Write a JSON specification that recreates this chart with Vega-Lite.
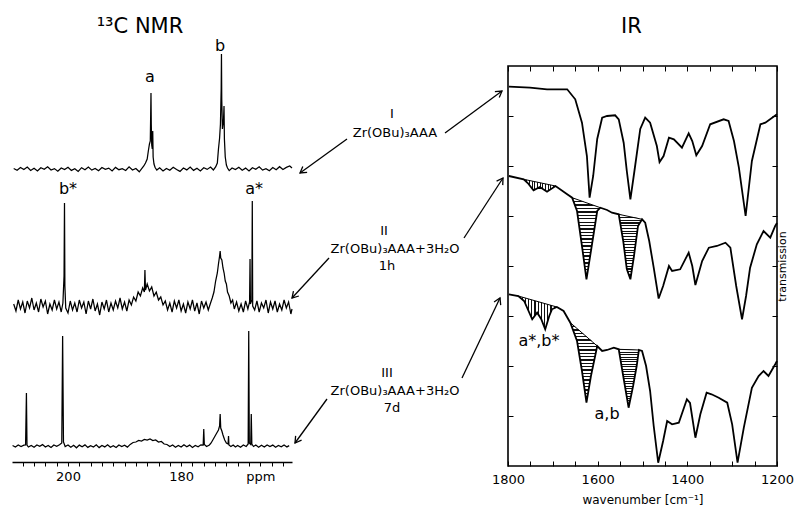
{
"$schema":"https://vega.github.io/schema/vega-lite/v6.json",
"padding":{"left":10,"top":14,"right":5,"bottom":5},
"background":"white",
"spacing":0,
"bounds":"flush",
"config":{"font":"DejaVu Sans","view":{"stroke":null},"axis":{"labelColor":"black","tickColor":"black","domainColor":"black","titleColor":"black","titleFontWeight":"normal","grid":false,"labelFont":"DejaVu Sans","titleFont":"DejaVu Sans"},"title":{"fontWeight":"normal","color":"black","font":"DejaVu Sans"}},
"datasets":{
"nmr":[
{"s":"I","p":209.6,"v":0.5},{"s":"I","p":209.0,"v":-1.2},{"s":"I","p":208.4,"v":1.5},{"s":"I","p":207.8,"v":-0.5},{"s":"I","p":207.2,"v":2},{"s":"I","p":206.6,"v":-1.5},{"s":"I","p":206.0,"v":0.8},{"s":"I","p":205.4,"v":-2},{"s":"I","p":204.8,"v":1.2},{"s":"I","p":204.2,"v":-0.3},{"s":"I","p":203.6,"v":2.2},{"s":"I","p":203.0,"v":-1},{"s":"I","p":202.4,"v":0.4},{"s":"I","p":201.8,"v":-2.2},{"s":"I","p":201.2,"v":1},{"s":"I","p":200.6,"v":-0.6},{"s":"I","p":200.0,"v":1.8},{"s":"I","p":199.4,"v":-1.4},{"s":"I","p":198.8,"v":0.2},{"s":"I","p":198.2,"v":-2.5},{"s":"I","p":197.6,"v":1.3},{"s":"I","p":197.0,"v":-0.8},{"s":"I","p":196.4,"v":2},{"s":"I","p":195.8,"v":-1.1},{"s":"I","p":195.2,"v":0.6},{"s":"I","p":194.6,"v":-1.8},{"s":"I","p":194.0,"v":1.5},{"s":"I","p":193.4,"v":-0.4},{"s":"I","p":192.8,"v":0.9},{"s":"I","p":192.2,"v":-2},{"s":"I","p":191.6,"v":1.6},{"s":"I","p":191.0,"v":-0.7},{"s":"I","p":190.4,"v":0.3},{"s":"I","p":189.8,"v":-1.5},{"s":"I","p":189.2,"v":2.1},{"s":"I","p":188.6,"v":-1},{"s":"I","p":188.0,"v":0.5},{"s":"I","p":187.4,"v":-2.8},{"s":"I","p":186.9,"v":0.8},{"s":"I","p":186.6,"v":3},{"s":"I","p":186.3,"v":6},{"s":"I","p":186.0,"v":10},{"s":"I","p":185.8,"v":18},{"s":"I","p":185.6,"v":25},{"s":"I","p":185.45,"v":28},{"s":"I","p":185.38,"v":55},{"s":"I","p":185.33,"v":76},{"s":"I","p":185.28,"v":45},{"s":"I","p":185.2,"v":24},{"s":"I","p":185.1,"v":20},{"s":"I","p":185.02,"v":38},{"s":"I","p":184.95,"v":12},{"s":"I","p":184.8,"v":5},{"s":"I","p":184.6,"v":1.5},{"s":"I","p":184.3,"v":-1},{"s":"I","p":183.8,"v":1.2},{"s":"I","p":183.2,"v":-2},{"s":"I","p":182.6,"v":0.6},{"s":"I","p":182.0,"v":-1.2},{"s":"I","p":181.4,"v":1.8},{"s":"I","p":180.8,"v":-0.5},{"s":"I","p":180.2,"v":-2.4},{"s":"I","p":179.6,"v":1},{"s":"I","p":179.0,"v":-0.9},{"s":"I","p":178.4,"v":2},{"s":"I","p":177.8,"v":-1.4},{"s":"I","p":177.2,"v":0.7},{"s":"I","p":176.6,"v":-1.9},{"s":"I","p":176.0,"v":1.2},{"s":"I","p":175.4,"v":-0.4},{"s":"I","p":174.8,"v":1.9},{"s":"I","p":174.3,"v":-1},{"s":"I","p":173.9,"v":2},{"s":"I","p":173.6,"v":6},{"s":"I","p":173.4,"v":20},{"s":"I","p":173.2,"v":31},{"s":"I","p":173.05,"v":45},{"s":"I","p":172.92,"v":80},{"s":"I","p":172.87,"v":115},{"s":"I","p":172.82,"v":70},{"s":"I","p":172.7,"v":40},{"s":"I","p":172.5,"v":50},{"s":"I","p":172.42,"v":63},{"s":"I","p":172.35,"v":30},{"s":"I","p":172.2,"v":12},{"s":"I","p":172.0,"v":4},{"s":"I","p":171.8,"v":1},{"s":"I","p":171.5,"v":-1.6},{"s":"I","p":171.0,"v":1},{"s":"I","p":170.4,"v":-0.6},{"s":"I","p":169.8,"v":1.8},{"s":"I","p":169.2,"v":-1.2},{"s":"I","p":168.6,"v":0.9},{"s":"I","p":168.0,"v":-2},{"s":"I","p":167.4,"v":1.3},{"s":"I","p":166.8,"v":-0.3},{"s":"I","p":166.2,"v":2.2},{"s":"I","p":165.6,"v":-1.1},{"s":"I","p":165.0,"v":0.4},{"s":"I","p":164.4,"v":-1.7},{"s":"I","p":163.8,"v":1.5},{"s":"I","p":163.2,"v":-0.8},{"s":"I","p":162.6,"v":2.3},{"s":"I","p":162.0,"v":-0.5},{"s":"I","p":161.4,"v":1.6},{"s":"I","p":160.8,"v":3},{"s":"I","p":160.4,"v":1},
{"s":"II","p":209.6,"v":2},{"s":"II","p":209.2,"v":-5},{"s":"II","p":208.8,"v":6},{"s":"II","p":208.4,"v":-3},{"s":"II","p":208.0,"v":4},{"s":"II","p":207.6,"v":-7},{"s":"II","p":207.2,"v":5},{"s":"II","p":206.8,"v":-2},{"s":"II","p":206.4,"v":8},{"s":"II","p":206.0,"v":-4},{"s":"II","p":205.6,"v":3},{"s":"II","p":205.2,"v":-6},{"s":"II","p":204.8,"v":7},{"s":"II","p":204.4,"v":-1},{"s":"II","p":204.0,"v":5},{"s":"II","p":203.6,"v":-8},{"s":"II","p":203.2,"v":2},{"s":"II","p":202.8,"v":-4},{"s":"II","p":202.4,"v":6},{"s":"II","p":202.0,"v":-3},{"s":"II","p":201.6,"v":4},{"s":"II","p":201.2,"v":-6},{"s":"II","p":200.9,"v":3},{"s":"II","p":200.7,"v":30},{"s":"II","p":200.62,"v":103},{"s":"II","p":200.55,"v":20},{"s":"II","p":200.4,"v":-2},{"s":"II","p":200.0,"v":-7},{"s":"II","p":199.6,"v":5},{"s":"II","p":199.2,"v":-4},{"s":"II","p":198.8,"v":3},{"s":"II","p":198.4,"v":-6},{"s":"II","p":198.0,"v":6},{"s":"II","p":197.6,"v":-2},{"s":"II","p":197.2,"v":4},{"s":"II","p":196.8,"v":-8},{"s":"II","p":196.4,"v":5},{"s":"II","p":196.0,"v":-3},{"s":"II","p":195.6,"v":7},{"s":"II","p":195.2,"v":-5},{"s":"II","p":194.8,"v":2},{"s":"II","p":194.4,"v":-9},{"s":"II","p":194.0,"v":4},{"s":"II","p":193.6,"v":-3},{"s":"II","p":193.2,"v":6},{"s":"II","p":192.8,"v":-6},{"s":"II","p":192.4,"v":3},{"s":"II","p":192.0,"v":-4},{"s":"II","p":191.6,"v":5},{"s":"II","p":191.2,"v":-2},{"s":"II","p":190.8,"v":8},{"s":"II","p":190.4,"v":-3},{"s":"II","p":190.0,"v":4},{"s":"II","p":189.6,"v":-5},{"s":"II","p":189.2,"v":6},{"s":"II","p":188.8,"v":1},{"s":"II","p":188.4,"v":9},{"s":"II","p":188.0,"v":5},{"s":"II","p":187.6,"v":14},{"s":"II","p":187.2,"v":10},{"s":"II","p":186.8,"v":18},{"s":"II","p":186.5,"v":14},{"s":"II","p":186.4,"v":36},{"s":"II","p":186.3,"v":16},{"s":"II","p":186.0,"v":22},{"s":"II","p":185.6,"v":15},{"s":"II","p":185.2,"v":19},{"s":"II","p":184.8,"v":10},{"s":"II","p":184.4,"v":14},{"s":"II","p":184.0,"v":6},{"s":"II","p":183.6,"v":9},{"s":"II","p":183.2,"v":1},{"s":"II","p":182.8,"v":5},{"s":"II","p":182.4,"v":-4},{"s":"II","p":182.0,"v":3},{"s":"II","p":181.6,"v":-6},{"s":"II","p":181.2,"v":5},{"s":"II","p":180.8,"v":-2},{"s":"II","p":180.4,"v":6},{"s":"II","p":180.0,"v":-5},{"s":"II","p":179.6,"v":2},{"s":"II","p":179.2,"v":-7},{"s":"II","p":178.8,"v":4},{"s":"II","p":178.4,"v":-3},{"s":"II","p":178.0,"v":6},{"s":"II","p":177.6,"v":-5},{"s":"II","p":177.2,"v":3},{"s":"II","p":176.8,"v":-8},{"s":"II","p":176.4,"v":5},{"s":"II","p":176.0,"v":-2},{"s":"II","p":175.6,"v":4},{"s":"II","p":175.2,"v":-4},{"s":"II","p":174.8,"v":3},{"s":"II","p":174.5,"v":8},{"s":"II","p":174.2,"v":14},{"s":"II","p":173.9,"v":25},{"s":"II","p":173.6,"v":33},{"s":"II","p":173.4,"v":42},{"s":"II","p":173.2,"v":50},{"s":"II","p":173.1,"v":55},{"s":"II","p":173.0,"v":48},{"s":"II","p":172.8,"v":46},{"s":"II","p":172.6,"v":38},{"s":"II","p":172.4,"v":33},{"s":"II","p":172.2,"v":25},{"s":"II","p":172.0,"v":22},{"s":"II","p":171.8,"v":14},{"s":"II","p":171.5,"v":10},{"s":"II","p":171.2,"v":3},{"s":"II","p":170.9,"v":6},{"s":"II","p":170.6,"v":-3},{"s":"II","p":170.2,"v":4},{"s":"II","p":169.8,"v":-5},{"s":"II","p":169.4,"v":2},{"s":"II","p":169.0,"v":-6},{"s":"II","p":168.6,"v":5},{"s":"II","p":168.2,"v":-3},{"s":"II","p":167.9,"v":4},{"s":"II","p":167.82,"v":47},{"s":"II","p":167.75,"v":2},{"s":"II","p":167.5,"v":6},{"s":"II","p":167.42,"v":105},{"s":"II","p":167.35,"v":0},{"s":"II","p":167.0,"v":-4},{"s":"II","p":166.6,"v":5},{"s":"II","p":166.2,"v":-6},{"s":"II","p":165.8,"v":3},{"s":"II","p":165.4,"v":-2},{"s":"II","p":165.0,"v":6},{"s":"II","p":164.6,"v":-7},{"s":"II","p":164.2,"v":4},{"s":"II","p":163.8,"v":-3},{"s":"II","p":163.4,"v":5},{"s":"II","p":163.0,"v":-6},{"s":"II","p":162.6,"v":2},{"s":"II","p":162.2,"v":-4},{"s":"II","p":161.8,"v":6},{"s":"II","p":161.4,"v":-2},{"s":"II","p":161.0,"v":4},{"s":"II","p":160.6,"v":-8},{"s":"II","p":160.4,"v":-3},
{"s":"III","p":209.8,"v":0.5},{"s":"III","p":209.3,"v":-1},{"s":"III","p":208.8,"v":1},{"s":"III","p":208.3,"v":-0.5},{"s":"III","p":207.8,"v":0.8},{"s":"III","p":207.5,"v":1},{"s":"III","p":207.35,"v":53},{"s":"III","p":207.25,"v":1},{"s":"III","p":207.0,"v":-1},{"s":"III","p":206.5,"v":0.6},{"s":"III","p":206.0,"v":-1.2},{"s":"III","p":205.5,"v":1},{"s":"III","p":205.0,"v":-0.4},{"s":"III","p":204.5,"v":1.4},{"s":"III","p":204.0,"v":-1},{"s":"III","p":203.5,"v":0.5},{"s":"III","p":203.0,"v":-1.5},{"s":"III","p":202.5,"v":1},{"s":"III","p":202.0,"v":-0.3},{"s":"III","p":201.5,"v":1.2},{"s":"III","p":201.1,"v":3},{"s":"III","p":200.95,"v":110},{"s":"III","p":200.8,"v":4},{"s":"III","p":200.5,"v":-0.5},{"s":"III","p":200.0,"v":1},{"s":"III","p":199.5,"v":-1.3},{"s":"III","p":199.0,"v":0.7},{"s":"III","p":198.5,"v":-1.8},{"s":"III","p":198.0,"v":0.9},{"s":"III","p":197.5,"v":-0.8},{"s":"III","p":197.0,"v":1.1},{"s":"III","p":196.5,"v":-1.4},{"s":"III","p":196.0,"v":0.4},{"s":"III","p":195.5,"v":-1},{"s":"III","p":195.0,"v":1.2},{"s":"III","p":194.5,"v":-1.6},{"s":"III","p":194.0,"v":0.6},{"s":"III","p":193.5,"v":-0.9},{"s":"III","p":193.0,"v":1.3},{"s":"III","p":192.5,"v":-1.2},{"s":"III","p":192.0,"v":0.2},{"s":"III","p":191.5,"v":-1.5},{"s":"III","p":191.0,"v":1},{"s":"III","p":190.5,"v":-0.6},{"s":"III","p":190.0,"v":0.8},{"s":"III","p":189.5,"v":-1.1},{"s":"III","p":189.0,"v":1.6},{"s":"III","p":188.5,"v":3.5},{"s":"III","p":188.0,"v":4},{"s":"III","p":187.5,"v":5.5},{"s":"III","p":187.0,"v":5},{"s":"III","p":186.5,"v":6.5},{"s":"III","p":186.0,"v":6},{"s":"III","p":185.5,"v":7},{"s":"III","p":185.0,"v":5.5},{"s":"III","p":184.5,"v":6},{"s":"III","p":184.0,"v":4},{"s":"III","p":183.5,"v":4.5},{"s":"III","p":183.0,"v":2},{"s":"III","p":182.5,"v":1.5},{"s":"III","p":182.0,"v":-0.5},{"s":"III","p":181.5,"v":1},{"s":"III","p":181.0,"v":-1.2},{"s":"III","p":180.5,"v":0.5},{"s":"III","p":180.0,"v":-1},{"s":"III","p":179.5,"v":1.3},{"s":"III","p":179.0,"v":-0.7},{"s":"III","p":178.5,"v":0.9},{"s":"III","p":178.0,"v":-1.4},{"s":"III","p":177.5,"v":0.6},{"s":"III","p":177.0,"v":-0.8},{"s":"III","p":176.5,"v":1.2},{"s":"III","p":176.1,"v":1},{"s":"III","p":176.0,"v":17},{"s":"III","p":175.9,"v":1.5},{"s":"III","p":175.5,"v":-0.5},{"s":"III","p":175.0,"v":1},{"s":"III","p":174.7,"v":3},{"s":"III","p":174.4,"v":6},{"s":"III","p":174.0,"v":10},{"s":"III","p":173.7,"v":13},{"s":"III","p":173.4,"v":16},{"s":"III","p":173.2,"v":20},{"s":"III","p":173.1,"v":32},{"s":"III","p":173.0,"v":18},{"s":"III","p":172.8,"v":15},{"s":"III","p":172.6,"v":11},{"s":"III","p":172.3,"v":6},{"s":"III","p":172.0,"v":3},{"s":"III","p":171.7,"v":2},{"s":"III","p":171.62,"v":10},{"s":"III","p":171.55,"v":1},{"s":"III","p":171.2,"v":-0.5},{"s":"III","p":170.8,"v":1},{"s":"III","p":170.4,"v":-1},{"s":"III","p":170.0,"v":0.5},{"s":"III","p":169.5,"v":-1.2},{"s":"III","p":169.0,"v":1},{"s":"III","p":168.5,"v":-0.5},{"s":"III","p":168.15,"v":2},{"s":"III","p":168.05,"v":115},{"s":"III","p":167.95,"v":3},{"s":"III","p":167.7,"v":1.5},{"s":"III","p":167.6,"v":32},{"s":"III","p":167.5,"v":2},{"s":"III","p":167.2,"v":-0.5},{"s":"III","p":166.8,"v":1},{"s":"III","p":166.3,"v":-1.2},{"s":"III","p":165.8,"v":0.8},{"s":"III","p":165.3,"v":-1},{"s":"III","p":164.8,"v":1.1},{"s":"III","p":164.3,"v":-0.6},{"s":"III","p":163.8,"v":0.9},{"s":"III","p":163.3,"v":-1.3},{"s":"III","p":162.8,"v":0.5},{"s":"III","p":162.3,"v":-0.8},{"s":"III","p":161.8,"v":1},{"s":"III","p":161.3,"v":-0.9},{"s":"III","p":160.9,"v":0.4}
],
"nmrlab":[
{"s":"I","p":185.5,"v":92,"t":"a"},{"s":"I","p":173.1,"v":123,"t":"b"},{"s":"II","p":200.0,"v":117,"t":"b*"},{"s":"II","p":167.1,"v":117,"t":"a*"}
],
"ir":[
{"c":"I","w":1798,"T":164.3},{"c":"I","w":1751,"T":163.3},{"c":"I","w":1713,"T":161.7},{"c":"I","w":1668,"T":161.7},{"c":"I","w":1650,"T":151.7},{"c":"I","w":1635,"T":128.3},{"c":"I","w":1624,"T":95},{"c":"I","w":1618,"T":53.3},{"c":"I","w":1610,"T":75},{"c":"I","w":1601,"T":112},{"c":"I","w":1590,"T":133.3},{"c":"I","w":1579,"T":135},{"c":"I","w":1561,"T":135.7},{"c":"I","w":1553,"T":131.7},{"c":"I","w":1542,"T":108.3},{"c":"I","w":1535,"T":80},{"c":"I","w":1527,"T":51.7},{"c":"I","w":1518,"T":80},{"c":"I","w":1505,"T":122},{"c":"I","w":1494,"T":133.3},{"c":"I","w":1483,"T":128.3},{"c":"I","w":1468,"T":105},{"c":"I","w":1462,"T":89},{"c":"I","w":1453,"T":95},{"c":"I","w":1441,"T":113.3},{"c":"I","w":1430,"T":111.7},{"c":"I","w":1412,"T":103.3},{"c":"I","w":1397,"T":117.7},{"c":"I","w":1389,"T":110},{"c":"I","w":1380,"T":95.7},{"c":"I","w":1367,"T":105},{"c":"I","w":1349,"T":126.7},{"c":"I","w":1319,"T":131.7},{"c":"I","w":1308,"T":130},{"c":"I","w":1296,"T":110},{"c":"I","w":1285,"T":83.3},{"c":"I","w":1270,"T":35},{"c":"I","w":1256,"T":90},{"c":"I","w":1237,"T":126.7},{"c":"I","w":1226,"T":128.3},{"c":"I","w":1200,"T":136.7},
{"c":"II","w":1798,"T":155},{"c":"II","w":1765,"T":151.7},{"c":"II","w":1756,"T":148},{"c":"II","w":1743,"T":140.7},{"c":"II","w":1729,"T":144},{"c":"II","w":1713,"T":139.3},{"c":"II","w":1694,"T":145},{"c":"II","w":1668,"T":136.7},{"c":"II","w":1657,"T":133.3},{"c":"II","w":1646,"T":120},{"c":"II","w":1635,"T":85},{"c":"II","w":1625,"T":51.7},{"c":"II","w":1615,"T":80},{"c":"II","w":1601,"T":120},{"c":"II","w":1594,"T":123.3},{"c":"II","w":1579,"T":121},{"c":"II","w":1568,"T":118.3},{"c":"II","w":1553,"T":116.7},{"c":"II","w":1543,"T":90},{"c":"II","w":1535,"T":62},{"c":"II","w":1527,"T":51.7},{"c":"II","w":1519,"T":75},{"c":"II","w":1510,"T":105},{"c":"II","w":1501,"T":111.7},{"c":"II","w":1494,"T":108.3},{"c":"II","w":1485,"T":90},{"c":"II","w":1475,"T":63.3},{"c":"II","w":1464,"T":32.5},{"c":"II","w":1454,"T":45},{"c":"II","w":1441,"T":65},{"c":"II","w":1434,"T":60},{"c":"II","w":1416,"T":61.7},{"c":"II","w":1397,"T":78.3},{"c":"II","w":1389,"T":65},{"c":"II","w":1382,"T":46},{"c":"II","w":1367,"T":70},{"c":"II","w":1352,"T":83.3},{"c":"II","w":1334,"T":85},{"c":"II","w":1315,"T":88.3},{"c":"II","w":1304,"T":83.3},{"c":"II","w":1291,"T":45},{"c":"II","w":1278,"T":11.7},{"c":"II","w":1269,"T":35},{"c":"II","w":1260,"T":63.3},{"c":"II","w":1245,"T":86.7},{"c":"II","w":1230,"T":100},{"c":"II","w":1215,"T":93.3},{"c":"II","w":1204,"T":105},{"c":"II","w":1200,"T":108},
{"c":"III","w":1798,"T":176.7},{"c":"III","w":1777,"T":175},{"c":"III","w":1764,"T":170},{"c":"III","w":1746,"T":151.7},{"c":"III","w":1735,"T":158.3},{"c":"III","w":1726,"T":152},{"c":"III","w":1717,"T":141.7},{"c":"III","w":1708,"T":155},{"c":"III","w":1702,"T":161.7},{"c":"III","w":1691,"T":164},{"c":"III","w":1676,"T":160},{"c":"III","w":1661,"T":148.3},{"c":"III","w":1646,"T":130},{"c":"III","w":1635,"T":100},{"c":"III","w":1625,"T":68.3},{"c":"III","w":1615,"T":95},{"c":"III","w":1601,"T":125},{"c":"III","w":1590,"T":120},{"c":"III","w":1579,"T":121},{"c":"III","w":1564,"T":123.3},{"c":"III","w":1553,"T":121.7},{"c":"III","w":1543,"T":95},{"c":"III","w":1531,"T":63.3},{"c":"III","w":1521,"T":85},{"c":"III","w":1513,"T":105},{"c":"III","w":1508,"T":121},{"c":"III","w":1501,"T":120},{"c":"III","w":1492,"T":105},{"c":"III","w":1483,"T":80},{"c":"III","w":1475,"T":45},{"c":"III","w":1465,"T":8.3},{"c":"III","w":1454,"T":30},{"c":"III","w":1445,"T":50},{"c":"III","w":1434,"T":46.7},{"c":"III","w":1419,"T":48.3},{"c":"III","w":1401,"T":71.7},{"c":"III","w":1394,"T":68},{"c":"III","w":1382,"T":33.3},{"c":"III","w":1371,"T":56.7},{"c":"III","w":1357,"T":78.3},{"c":"III","w":1346,"T":76.7},{"c":"III","w":1330,"T":73.3},{"c":"III","w":1311,"T":68.3},{"c":"III","w":1300,"T":46.7},{"c":"III","w":1288,"T":8.3},{"c":"III","w":1274,"T":43.3},{"c":"III","w":1256,"T":83.3},{"c":"III","w":1241,"T":95},{"c":"III","w":1230,"T":100},{"c":"III","w":1219,"T":95},{"c":"III","w":1204,"T":106.7},{"c":"III","w":1200,"T":110}
],
"hatch":[
{"c":"II","r":"A","w":1765,"T":151.7,"Tb":151.7},{"c":"II","r":"A","w":1756,"T":148,"Tb":150.9},{"c":"II","r":"A","w":1743,"T":140.7,"Tb":149.6},{"c":"II","r":"A","w":1729,"T":144,"Tb":148.3},{"c":"II","r":"A","w":1713,"T":139.3,"Tb":146.8},{"c":"II","r":"A","w":1694,"T":145,"Tb":145},
{"c":"II","r":"B","w":1657,"T":133.3,"Tb":133.3},{"c":"II","r":"B","w":1646,"T":120,"Tb":131.5},{"c":"II","r":"B","w":1635,"T":85,"Tb":129.8},{"c":"II","r":"B","w":1625,"T":51.7,"Tb":128.2},{"c":"II","r":"B","w":1615,"T":80,"Tb":126.6},{"c":"II","r":"B","w":1601,"T":120,"Tb":124.4},{"c":"II","r":"B","w":1594,"T":123.3,"Tb":123.3},
{"c":"II","r":"C","w":1553,"T":116.7,"Tb":116.7},{"c":"II","r":"C","w":1543,"T":90,"Tb":115.8},{"c":"II","r":"C","w":1535,"T":62,"Tb":115.1},{"c":"II","r":"C","w":1527,"T":51.7,"Tb":114.4},{"c":"II","r":"C","w":1519,"T":75,"Tb":113.7},{"c":"II","r":"C","w":1510,"T":105,"Tb":112.9},{"c":"II","r":"C","w":1501,"T":111.7,"Tb":111.7},
{"c":"III","r":"A","w":1777,"T":175,"Tb":175},{"c":"III","r":"A","w":1764,"T":170,"Tb":173.3},{"c":"III","r":"A","w":1746,"T":151.7,"Tb":171},{"c":"III","r":"A","w":1735,"T":158.3,"Tb":169.6},{"c":"III","r":"A","w":1726,"T":152,"Tb":168.5},{"c":"III","r":"A","w":1717,"T":141.7,"Tb":167.3},{"c":"III","r":"A","w":1708,"T":155,"Tb":166.2},{"c":"III","r":"A","w":1702,"T":161.7,"Tb":165.4},{"c":"III","r":"A","w":1691,"T":164,"Tb":164},
{"c":"III","r":"B","w":1661,"T":148.3,"Tb":148.3},{"c":"III","r":"B","w":1646,"T":130,"Tb":142.7},{"c":"III","r":"B","w":1635,"T":100,"Tb":138.6},{"c":"III","r":"B","w":1625,"T":68.3,"Tb":134.8},{"c":"III","r":"B","w":1615,"T":95,"Tb":131.1},{"c":"III","r":"B","w":1601,"T":125,"Tb":125},
{"c":"III","r":"C","w":1553,"T":121.7,"Tb":121.7},{"c":"III","r":"C","w":1543,"T":95,"Tb":121.6},{"c":"III","r":"C","w":1531,"T":63.3,"Tb":121.4},{"c":"III","r":"C","w":1521,"T":85,"Tb":121.2},{"c":"III","r":"C","w":1513,"T":105,"Tb":121.1},{"c":"III","r":"C","w":1508,"T":121,"Tb":121}
],
"hline":[
{"c":"II","w":1765,"T":151.7,"w2":1694,"T2":145},{"c":"II","w":1657,"T":133.3,"w2":1594,"T2":123.3},{"c":"II","w":1553,"T":116.7,"w2":1501,"T2":111.7},
{"c":"III","w":1777,"T":175,"w2":1691,"T2":164},{"c":"III","w":1661,"T":148.3,"w2":1601,"T2":125},{"c":"III","w":1553,"T":121.7,"w2":1508,"T2":121}
],
"irlab":[{"w":1731,"T":130,"t":"a*,b*"},{"w":1579,"T":57,"t":"a,b"}],
"arrows":[
{"x1":55,"y1":73,"x2":8,"y2":107},{"x1":153,"y1":67,"x2":210,"y2":25},{"x1":37,"y1":192,"x2":0,"y2":232},{"x1":172,"y1":172,"x2":211,"y2":112},{"x1":35,"y1":333,"x2":3,"y2":377},{"x1":170,"y1":312,"x2":208,"y2":232}
],
"midtext":[
{"x":100,"y":48,"t":"I"},{"x":103,"y":67,"t":"Zr(OBu)₃AAA"},{"x":92,"y":165,"t":"II"},{"x":103,"y":183,"t":"Zr(OBu)₃AAA+3H₂O"},{"x":95,"y":200,"t":"1h"},{"x":95,"y":307,"t":"III"},{"x":103,"y":325,"t":"Zr(OBu)₃AAA+3H₂O"},{"x":100,"y":342,"t":"7d"}
]
},
"hconcat":[
{
"width":280,"height":396,
"title":{"text":"¹³C NMR","fontSize":21,"offset":1,"dx":-12},
"encoding":{"x":{"field":"p","type":"quantitative","scale":{"domain":[160.4,209.9],"reverse":true,"nice":false,"zero":false},"axis":{"values":[162,164,166,168,170,172,174,176,178,180,182,184,186,188,190,192,194,196,198,200,202,204,206,208],"labelExpr":"datum.value==200||datum.value==180?datum.label:(datum.value==166?'ppm':'')","tickSize":4,"labelFontSize":13,"labelPadding":4,"domainWidth":1.6,"tickWidth":1,"labelOverlap":false,"labelFlush":false,"labelBound":false,"title":null}}},
"layer":[
{"encoding":{"y":{"field":"v","type":"quantitative","scale":{"domain":[-293,103],"nice":false,"zero":false},"axis":null}},
 "layer":[
  {"data":{"name":"nmr"},"transform":[{"filter":"datum.s==='I'"}],"mark":{"type":"line","stroke":"black","strokeWidth":1.25},"encoding":{}},
  {"data":{"name":"nmrlab"},"transform":[{"filter":"datum.s==='I'"}],"mark":{"type":"text","fontSize":16,"baseline":"middle","color":"black"},"encoding":{"text":{"field":"t"}}}
 ]},
{"encoding":{"y":{"field":"v","type":"quantitative","scale":{"domain":[-156,240],"nice":false,"zero":false},"axis":null}},
 "layer":[
  {"data":{"name":"nmr"},"transform":[{"filter":"datum.s==='II'"}],"mark":{"type":"line","stroke":"black","strokeWidth":1.25},"encoding":{}},
  {"data":{"name":"nmrlab"},"transform":[{"filter":"datum.s==='II'"}],"mark":{"type":"text","fontSize":16,"baseline":"middle","color":"black"},"encoding":{"text":{"field":"t"}}}
 ]},
{"encoding":{"y":{"field":"v","type":"quantitative","scale":{"domain":[-16,380],"nice":false,"zero":false},"axis":null}},
 "layer":[
  {"data":{"name":"nmr"},"transform":[{"filter":"datum.s==='III'"}],"mark":{"type":"line","stroke":"black","strokeWidth":1.25},"encoding":{}}
 ]}
],
"resolve":{"scale":{"y":"independent"}}
},
{
"width":216,"height":400,
"layer":[
 {"data":{"name":"arrows"},"mark":{"type":"rule","stroke":"black","strokeWidth":1.3},"encoding":{"x":{"field":"x1","type":"quantitative","scale":{"domain":[0,216],"nice":false,"zero":false},"axis":null},"y":{"field":"y1","type":"quantitative","scale":{"domain":[0,400],"reverse":true,"nice":false,"zero":false},"axis":null},"x2":{"field":"x2"},"y2":{"field":"y2"}}},
 {"data":{"name":"arrows"},"transform":[{"calculate":"atan2(datum.y2-datum.y1,datum.x2-datum.x1)*180/PI","as":"ang"}],"mark":{"type":"point","shape":"M-1,-0.6L0,0L-1,0.6","filled":false,"stroke":"black","strokeWidth":1.3,"size":150,"opacity":1},"encoding":{"x":{"field":"x2","type":"quantitative","scale":{"domain":[0,216],"nice":false,"zero":false},"axis":null},"y":{"field":"y2","type":"quantitative","scale":{"domain":[0,400],"reverse":true,"nice":false,"zero":false},"axis":null},"angle":{"field":"ang","type":"quantitative","scale":null}}},
 {"data":{"name":"midtext"},"mark":{"type":"text","fontSize":13,"color":"black"},"encoding":{"x":{"field":"x","type":"quantitative","scale":{"domain":[0,216],"nice":false,"zero":false},"axis":null},"y":{"field":"y","type":"quantitative","scale":{"domain":[0,400],"reverse":true,"nice":false,"zero":false},"axis":null},"text":{"field":"t"}}}
]
},
{
"width":269,"height":400,
"view":{"stroke":"black","strokeWidth":1.6},
"title":{"text":"IR","fontSize":21,"offset":29,"dx":-11},
"layer":[
{"encoding":{
  "x":{"field":"w","type":"quantitative","scale":{"domain":[1200,1800],"reverse":true,"nice":false,"zero":false},"axis":{"orient":"top","values":[1200,1250,1300,1350,1400,1450,1500,1550,1600,1650,1700,1750,1800],"labels":false,"tickSize":-5,"domain":false,"title":null}},
  "y":{"field":"T","type":"quantitative","scale":{"domain":[-215,185],"nice":false,"zero":false},"axis":{"orient":"left","values":[135,85,35,-15,-65,-115,-165],"labels":false,"tickSize":-5,"domain":false,"title":null}}},
 "layer":[
  {"data":{"name":"ir"},"transform":[{"filter":"datum.c==='I'"}],"mark":{"type":"line","stroke":"black","strokeWidth":1.8},"encoding":{}}
 ]},
{"encoding":{
  "x":{"field":"w","type":"quantitative","scale":{"domain":[1200,1800],"reverse":true,"nice":false,"zero":false},"axis":null},
  "y":{"field":"T","type":"quantitative","scale":{"domain":[-135,265],"nice":false,"zero":false},"axis":{"orient":"right","values":[215,165,115,65,15,-35,-85],"labels":false,"tickSize":-5,"domain":false,"title":"transmission","titleAngle":270,"titleFontSize":11,"titlePadding":10}}},
 "layer":[
  {"data":{"name":"hatch"},"transform":[{"filter":"datum.c==='II'&&datum.r!=='A'"}],"mark":{"type":"area","fill":{"gradient":"linear","x1":0,"y1":0,"x2":0,"y2":1,"stops":[{"offset":0,"color":"#111"},{"offset":0.0167,"color":"#111"},{"offset":0.0167,"color":"#fff"},{"offset":0.0417,"color":"#fff"},{"offset":0.0417,"color":"#111"},{"offset":0.0583,"color":"#111"},{"offset":0.0583,"color":"#fff"},{"offset":0.0833,"color":"#fff"},{"offset":0.0833,"color":"#111"},{"offset":0.1,"color":"#111"},{"offset":0.1,"color":"#fff"},{"offset":0.125,"color":"#fff"},{"offset":0.125,"color":"#111"},{"offset":0.1417,"color":"#111"},{"offset":0.1417,"color":"#fff"},{"offset":0.1667,"color":"#fff"},{"offset":0.1667,"color":"#111"},{"offset":0.1833,"color":"#111"},{"offset":0.1833,"color":"#fff"},{"offset":0.2083,"color":"#fff"},{"offset":0.2083,"color":"#111"},{"offset":0.225,"color":"#111"},{"offset":0.225,"color":"#fff"},{"offset":0.25,"color":"#fff"},{"offset":0.25,"color":"#111"},{"offset":0.2667,"color":"#111"},{"offset":0.2667,"color":"#fff"},{"offset":0.2917,"color":"#fff"},{"offset":0.2917,"color":"#111"},{"offset":0.3083,"color":"#111"},{"offset":0.3083,"color":"#fff"},{"offset":0.3333,"color":"#fff"},{"offset":0.3333,"color":"#111"},{"offset":0.35,"color":"#111"},{"offset":0.35,"color":"#fff"},{"offset":0.375,"color":"#fff"},{"offset":0.375,"color":"#111"},{"offset":0.3917,"color":"#111"},{"offset":0.3917,"color":"#fff"},{"offset":0.4167,"color":"#fff"},{"offset":0.4167,"color":"#111"},{"offset":0.4333,"color":"#111"},{"offset":0.4333,"color":"#fff"},{"offset":0.4583,"color":"#fff"},{"offset":0.4583,"color":"#111"},{"offset":0.475,"color":"#111"},{"offset":0.475,"color":"#fff"},{"offset":0.5,"color":"#fff"},{"offset":0.5,"color":"#111"},{"offset":0.5167,"color":"#111"},{"offset":0.5167,"color":"#fff"},{"offset":0.5417,"color":"#fff"},{"offset":0.5417,"color":"#111"},{"offset":0.5583,"color":"#111"},{"offset":0.5583,"color":"#fff"},{"offset":0.5833,"color":"#fff"},{"offset":0.5833,"color":"#111"},{"offset":0.6,"color":"#111"},{"offset":0.6,"color":"#fff"},{"offset":0.625,"color":"#fff"},{"offset":0.625,"color":"#111"},{"offset":0.6417,"color":"#111"},{"offset":0.6417,"color":"#fff"},{"offset":0.6667,"color":"#fff"},{"offset":0.6667,"color":"#111"},{"offset":0.6833,"color":"#111"},{"offset":0.6833,"color":"#fff"},{"offset":0.7083,"color":"#fff"},{"offset":0.7083,"color":"#111"},{"offset":0.725,"color":"#111"},{"offset":0.725,"color":"#fff"},{"offset":0.75,"color":"#fff"},{"offset":0.75,"color":"#111"},{"offset":0.7667,"color":"#111"},{"offset":0.7667,"color":"#fff"},{"offset":0.7917,"color":"#fff"},{"offset":0.7917,"color":"#111"},{"offset":0.8083,"color":"#111"},{"offset":0.8083,"color":"#fff"},{"offset":0.8333,"color":"#fff"},{"offset":0.8333,"color":"#111"},{"offset":0.85,"color":"#111"},{"offset":0.85,"color":"#fff"},{"offset":0.875,"color":"#fff"},{"offset":0.875,"color":"#111"},{"offset":0.8917,"color":"#111"},{"offset":0.8917,"color":"#fff"},{"offset":0.9167,"color":"#fff"},{"offset":0.9167,"color":"#111"},{"offset":0.9333,"color":"#111"},{"offset":0.9333,"color":"#fff"},{"offset":0.9583,"color":"#fff"},{"offset":0.9583,"color":"#111"},{"offset":0.975,"color":"#111"},{"offset":0.975,"color":"#fff"},{"offset":1,"color":"#fff"}]}},"encoding":{"y2":{"field":"Tb"},"detail":{"field":"r"}}},
  {"data":{"name":"hatch"},"transform":[{"filter":"datum.c==='II'&&datum.r==='A'"}],"mark":{"type":"area","fill":{"gradient":"linear","x1":0,"y1":0,"x2":1,"y2":0,"stops":[{"offset":0,"color":"#111"},{"offset":0.03,"color":"#111"},{"offset":0.03,"color":"#fff"},{"offset":0.0833,"color":"#fff"},{"offset":0.0833,"color":"#111"},{"offset":0.1133,"color":"#111"},{"offset":0.1133,"color":"#fff"},{"offset":0.1667,"color":"#fff"},{"offset":0.1667,"color":"#111"},{"offset":0.1967,"color":"#111"},{"offset":0.1967,"color":"#fff"},{"offset":0.25,"color":"#fff"},{"offset":0.25,"color":"#111"},{"offset":0.28,"color":"#111"},{"offset":0.28,"color":"#fff"},{"offset":0.3333,"color":"#fff"},{"offset":0.3333,"color":"#111"},{"offset":0.3633,"color":"#111"},{"offset":0.3633,"color":"#fff"},{"offset":0.4167,"color":"#fff"},{"offset":0.4167,"color":"#111"},{"offset":0.4467,"color":"#111"},{"offset":0.4467,"color":"#fff"},{"offset":0.5,"color":"#fff"},{"offset":0.5,"color":"#111"},{"offset":0.53,"color":"#111"},{"offset":0.53,"color":"#fff"},{"offset":0.5833,"color":"#fff"},{"offset":0.5833,"color":"#111"},{"offset":0.6133,"color":"#111"},{"offset":0.6133,"color":"#fff"},{"offset":0.6667,"color":"#fff"},{"offset":0.6667,"color":"#111"},{"offset":0.6967,"color":"#111"},{"offset":0.6967,"color":"#fff"},{"offset":0.75,"color":"#fff"},{"offset":0.75,"color":"#111"},{"offset":0.78,"color":"#111"},{"offset":0.78,"color":"#fff"},{"offset":0.8333,"color":"#fff"},{"offset":0.8333,"color":"#111"},{"offset":0.8633,"color":"#111"},{"offset":0.8633,"color":"#fff"},{"offset":0.9167,"color":"#fff"},{"offset":0.9167,"color":"#111"},{"offset":0.9467,"color":"#111"},{"offset":0.9467,"color":"#fff"},{"offset":1,"color":"#fff"}]}},"encoding":{"y2":{"field":"Tb"}}},
  {"data":{"name":"hline"},"transform":[{"filter":"datum.c==='II'"}],"mark":{"type":"rule","stroke":"black","strokeWidth":1},"encoding":{"x2":{"field":"w2"},"y2":{"field":"T2"}}},
  {"data":{"name":"ir"},"transform":[{"filter":"datum.c==='II'"}],"mark":{"type":"line","stroke":"black","strokeWidth":1.8},"encoding":{}}
 ]},
{"encoding":{
  "x":{"field":"w","type":"quantitative","scale":{"domain":[1200,1800],"reverse":true,"nice":false,"zero":false},"axis":{"orient":"bottom","values":[1200,1250,1300,1350,1400,1450,1500,1550,1600,1650,1700,1750,1800],"format":"d","labelExpr":"datum.value%200==0?datum.label:''","tickSize":-5,"labelPadding":12,"domain":false,"labelFontSize":13,"labelFlush":false,"labelOverlap":false,"labelBound":false,"title":"wavenumber [cm⁻¹]","titleFontSize":12,"titlePadding":8}},
  "y":{"field":"T","type":"quantitative","scale":{"domain":[5,405],"nice":false,"zero":false},"axis":null}},
 "layer":[
  {"data":{"name":"hatch"},"transform":[{"filter":"datum.c==='III'&&datum.r!=='A'"}],"mark":{"type":"area","fill":{"gradient":"linear","x1":0,"y1":0,"x2":0,"y2":1,"stops":[{"offset":0,"color":"#111"},{"offset":0.0167,"color":"#111"},{"offset":0.0167,"color":"#fff"},{"offset":0.0417,"color":"#fff"},{"offset":0.0417,"color":"#111"},{"offset":0.0583,"color":"#111"},{"offset":0.0583,"color":"#fff"},{"offset":0.0833,"color":"#fff"},{"offset":0.0833,"color":"#111"},{"offset":0.1,"color":"#111"},{"offset":0.1,"color":"#fff"},{"offset":0.125,"color":"#fff"},{"offset":0.125,"color":"#111"},{"offset":0.1417,"color":"#111"},{"offset":0.1417,"color":"#fff"},{"offset":0.1667,"color":"#fff"},{"offset":0.1667,"color":"#111"},{"offset":0.1833,"color":"#111"},{"offset":0.1833,"color":"#fff"},{"offset":0.2083,"color":"#fff"},{"offset":0.2083,"color":"#111"},{"offset":0.225,"color":"#111"},{"offset":0.225,"color":"#fff"},{"offset":0.25,"color":"#fff"},{"offset":0.25,"color":"#111"},{"offset":0.2667,"color":"#111"},{"offset":0.2667,"color":"#fff"},{"offset":0.2917,"color":"#fff"},{"offset":0.2917,"color":"#111"},{"offset":0.3083,"color":"#111"},{"offset":0.3083,"color":"#fff"},{"offset":0.3333,"color":"#fff"},{"offset":0.3333,"color":"#111"},{"offset":0.35,"color":"#111"},{"offset":0.35,"color":"#fff"},{"offset":0.375,"color":"#fff"},{"offset":0.375,"color":"#111"},{"offset":0.3917,"color":"#111"},{"offset":0.3917,"color":"#fff"},{"offset":0.4167,"color":"#fff"},{"offset":0.4167,"color":"#111"},{"offset":0.4333,"color":"#111"},{"offset":0.4333,"color":"#fff"},{"offset":0.4583,"color":"#fff"},{"offset":0.4583,"color":"#111"},{"offset":0.475,"color":"#111"},{"offset":0.475,"color":"#fff"},{"offset":0.5,"color":"#fff"},{"offset":0.5,"color":"#111"},{"offset":0.5167,"color":"#111"},{"offset":0.5167,"color":"#fff"},{"offset":0.5417,"color":"#fff"},{"offset":0.5417,"color":"#111"},{"offset":0.5583,"color":"#111"},{"offset":0.5583,"color":"#fff"},{"offset":0.5833,"color":"#fff"},{"offset":0.5833,"color":"#111"},{"offset":0.6,"color":"#111"},{"offset":0.6,"color":"#fff"},{"offset":0.625,"color":"#fff"},{"offset":0.625,"color":"#111"},{"offset":0.6417,"color":"#111"},{"offset":0.6417,"color":"#fff"},{"offset":0.6667,"color":"#fff"},{"offset":0.6667,"color":"#111"},{"offset":0.6833,"color":"#111"},{"offset":0.6833,"color":"#fff"},{"offset":0.7083,"color":"#fff"},{"offset":0.7083,"color":"#111"},{"offset":0.725,"color":"#111"},{"offset":0.725,"color":"#fff"},{"offset":0.75,"color":"#fff"},{"offset":0.75,"color":"#111"},{"offset":0.7667,"color":"#111"},{"offset":0.7667,"color":"#fff"},{"offset":0.7917,"color":"#fff"},{"offset":0.7917,"color":"#111"},{"offset":0.8083,"color":"#111"},{"offset":0.8083,"color":"#fff"},{"offset":0.8333,"color":"#fff"},{"offset":0.8333,"color":"#111"},{"offset":0.85,"color":"#111"},{"offset":0.85,"color":"#fff"},{"offset":0.875,"color":"#fff"},{"offset":0.875,"color":"#111"},{"offset":0.8917,"color":"#111"},{"offset":0.8917,"color":"#fff"},{"offset":0.9167,"color":"#fff"},{"offset":0.9167,"color":"#111"},{"offset":0.9333,"color":"#111"},{"offset":0.9333,"color":"#fff"},{"offset":0.9583,"color":"#fff"},{"offset":0.9583,"color":"#111"},{"offset":0.975,"color":"#111"},{"offset":0.975,"color":"#fff"},{"offset":1,"color":"#fff"}]}},"encoding":{"y2":{"field":"Tb"},"detail":{"field":"r"}}},
  {"data":{"name":"hatch"},"transform":[{"filter":"datum.c==='III'&&datum.r==='A'"}],"mark":{"type":"area","fill":{"gradient":"linear","x1":0,"y1":0,"x2":1,"y2":0,"stops":[{"offset":0,"color":"#111"},{"offset":0.03,"color":"#111"},{"offset":0.03,"color":"#fff"},{"offset":0.0833,"color":"#fff"},{"offset":0.0833,"color":"#111"},{"offset":0.1133,"color":"#111"},{"offset":0.1133,"color":"#fff"},{"offset":0.1667,"color":"#fff"},{"offset":0.1667,"color":"#111"},{"offset":0.1967,"color":"#111"},{"offset":0.1967,"color":"#fff"},{"offset":0.25,"color":"#fff"},{"offset":0.25,"color":"#111"},{"offset":0.28,"color":"#111"},{"offset":0.28,"color":"#fff"},{"offset":0.3333,"color":"#fff"},{"offset":0.3333,"color":"#111"},{"offset":0.3633,"color":"#111"},{"offset":0.3633,"color":"#fff"},{"offset":0.4167,"color":"#fff"},{"offset":0.4167,"color":"#111"},{"offset":0.4467,"color":"#111"},{"offset":0.4467,"color":"#fff"},{"offset":0.5,"color":"#fff"},{"offset":0.5,"color":"#111"},{"offset":0.53,"color":"#111"},{"offset":0.53,"color":"#fff"},{"offset":0.5833,"color":"#fff"},{"offset":0.5833,"color":"#111"},{"offset":0.6133,"color":"#111"},{"offset":0.6133,"color":"#fff"},{"offset":0.6667,"color":"#fff"},{"offset":0.6667,"color":"#111"},{"offset":0.6967,"color":"#111"},{"offset":0.6967,"color":"#fff"},{"offset":0.75,"color":"#fff"},{"offset":0.75,"color":"#111"},{"offset":0.78,"color":"#111"},{"offset":0.78,"color":"#fff"},{"offset":0.8333,"color":"#fff"},{"offset":0.8333,"color":"#111"},{"offset":0.8633,"color":"#111"},{"offset":0.8633,"color":"#fff"},{"offset":0.9167,"color":"#fff"},{"offset":0.9167,"color":"#111"},{"offset":0.9467,"color":"#111"},{"offset":0.9467,"color":"#fff"},{"offset":1,"color":"#fff"}]}},"encoding":{"y2":{"field":"Tb"}}},
  {"data":{"name":"hline"},"transform":[{"filter":"datum.c==='III'"}],"mark":{"type":"rule","stroke":"black","strokeWidth":1},"encoding":{"x2":{"field":"w2"},"y2":{"field":"T2"}}},
  {"data":{"name":"ir"},"transform":[{"filter":"datum.c==='III'"}],"mark":{"type":"line","stroke":"black","strokeWidth":1.8},"encoding":{}},
  {"data":{"name":"irlab"},"mark":{"type":"text","fontSize":16,"baseline":"middle","color":"black"},"encoding":{"text":{"field":"t"}}}
 ]}
],
"resolve":{"scale":{"y":"independent"},"axis":{"x":"independent","y":"independent"}}
}
]
}
